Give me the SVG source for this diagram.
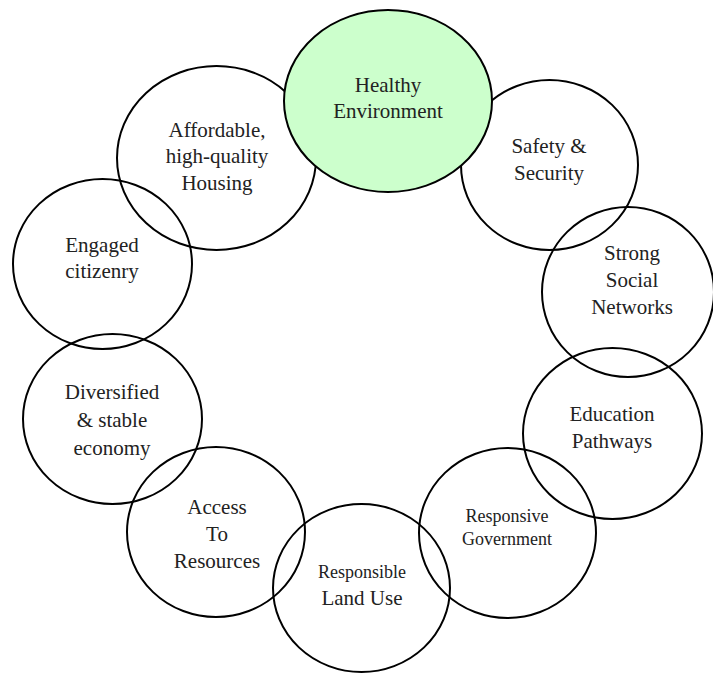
<svg xmlns="http://www.w3.org/2000/svg" width="713" height="673" viewBox="0 0 713 673">
<style>
.c{fill:none;stroke:#000;stroke-width:2}
.g{fill:#CCFFCC;stroke:#000;stroke-width:2}
.t{font-family:'Liberation Serif','Times New Roman',Times,'DejaVu Serif',serif;font-size:21px;fill:#222;text-anchor:middle}
.s{font-size:18px}
</style>
<rect width="713" height="673" fill="#fff"/>
<g id="connectors"></g>
<g id="housing"><ellipse class="c" cx="216.5" cy="158" rx="99.5" ry="92"/>
<text class="t" x="217" y="137">Affordable,</text><text class="t" x="217" y="163">high-quality</text><text class="t" x="217" y="190">Housing</text></g>
<g id="safety"><ellipse class="c" cx="549.5" cy="165" rx="88.5" ry="85"/>
<text class="t" x="549" y="153">Safety &amp;</text><text class="t" x="549" y="180">Security</text></g>
<g id="engaged"><ellipse class="c" cx="102.5" cy="264" rx="89.5" ry="85"/>
<text class="t" x="102" y="252">Engaged</text><text class="t" x="102" y="278">citizenry</text></g>
<g id="social"><ellipse class="c" cx="628" cy="292" rx="86" ry="85"/>
<text class="t" x="632" y="260">Strong</text><text class="t" x="632" y="287">Social</text><text class="t" x="632" y="314">Networks</text></g>
<g id="economy"><ellipse class="c" cx="112.5" cy="419" rx="89.5" ry="85"/>
<text class="t" x="112" y="399">Diversified</text><text class="t" x="112" y="427">&amp; stable</text><text class="t" x="112" y="455">economy</text></g>
<g id="education"><ellipse class="c" cx="612.5" cy="433.5" rx="89.5" ry="85.5"/>
<text class="t" x="612" y="421">Education</text><text class="t" x="612" y="448">Pathways</text></g>
<g id="government"><ellipse class="c" cx="507.5" cy="533" rx="88.5" ry="85"/>
<text class="t s" x="507" y="522">Responsive</text><text class="t s" x="507" y="545">Government</text></g>
<g id="access"><ellipse class="c" cx="216" cy="532" rx="89" ry="85"/>
<text class="t" x="217" y="514">Access</text><text class="t" x="217" y="541">To</text><text class="t" x="217" y="568">Resources</text></g>
<g id="landuse"><ellipse class="c" cx="361.5" cy="588" rx="88.5" ry="84"/>
<text class="t s" x="362" y="578">Responsible</text><text class="t" x="362" y="605">Land Use</text></g>
<g id="healthy"><ellipse class="g" cx="388" cy="101" rx="104" ry="91"/>
<text class="t" x="388" y="92">Healthy</text><text class="t" x="388" y="118">Environment</text></g>
</svg>
